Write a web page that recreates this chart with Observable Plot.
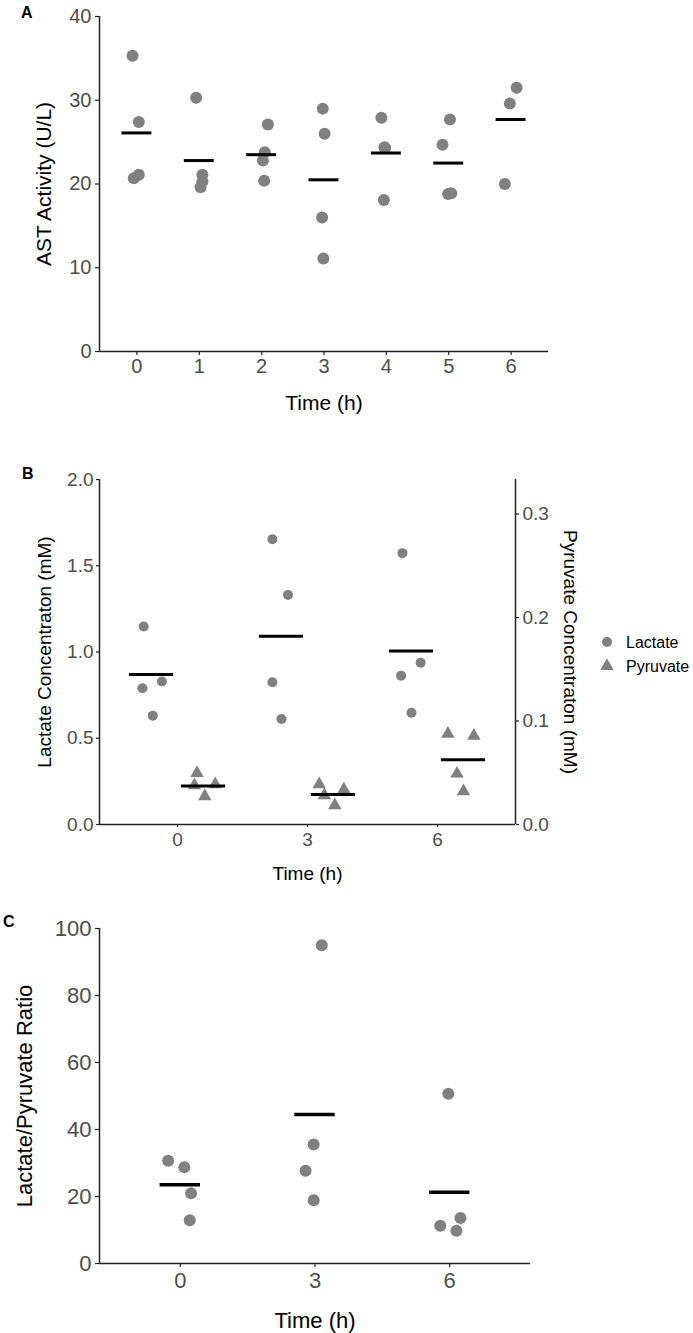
<!DOCTYPE html>
<html>
<head>
<meta charset="utf-8">
<script src="https://cdn.jsdelivr.net/npm/d3@7"></script>
<script src="https://cdn.jsdelivr.net/npm/@observablehq/plot@0.6"></script>
<style>
  body { margin: 0; background: #fff; }
  #wrap { position: relative; width: 693px; height: 1333px; overflow: hidden; background: #fff; }
  #wrap svg { position: absolute; left: 0; }
  .panel-letter { position: absolute; font-family: "Liberation Sans", Arial, Helvetica, sans-serif; font-weight: bold; font-size: 16px; line-height: 16px; color: #000; }
</style>
</head>
<body>
<div id="wrap"></div>
<script>
// ---------- Panel A data: AST activity ----------
const astTimes = [0, 1, 2, 3, 4, 5, 6];
const astTime = [0,0,0,0, 1,1,1,1, 2,2,2,2, 3,3,3,3, 4,4,4,4, 5,5,5,5, 6,6,6];
const astValue = [35.3,27.4,20.7,21.1, 30.3,21.1,20.3,19.6, 27.1,23.8,22.8,20.4, 29.0,26.0,16.0,11.1, 27.9,24.4,24.3,18.1, 27.7,24.7,18.8,18.9, 31.5,29.6,20.0];
const astJitter = [-0.07,0.03,-0.05,0.03, -0.05,0.05,0.05,0.02, 0.10,0.05,0.02,0.04, -0.02,0.01,-0.03,-0.01, -0.08,-0.03,-0.02,-0.04, 0.02,-0.10,-0.01,0.04, 0.09,-0.02,-0.10];
const astMean = [26.1, 22.8, 23.5, 20.5, 23.7, 22.5, 27.7];
const astTicks = [0, 10, 20, 30, 40];

// ---------- Panel B data: lactate / pyruvate ----------
const timeLabels = ["0", "3", "6"];
const lacTime = [0,0,0,0, 1,1,1,1, 2,2,2,2];
const lacValue = [1.148,0.790,0.829,0.631, 1.654,1.331,0.825,0.612, 1.573,0.938,0.863,0.648];
const lacJitter = [-0.26,-0.27,-0.12,-0.19, -0.27,-0.15,-0.27,-0.20, -0.27,-0.13,-0.28,-0.20];
const lacMean = [0.87, 1.092, 1.006];
const pyrTime = [0,0,0,0, 1,1,1,1, 2,2,2,2];
const pyrValue = [0.0497,0.0379,0.0388,0.0273, 0.0388,0.0282,0.0337,0.0186, 0.0876,0.0857,0.0491,0.0321];
const pyrJitter = [0.15,0.13,0.29,0.21, 0.09,0.13,0.28,0.21, 0.08,0.28,0.15,0.20];
const pyrMean = [0.0372, 0.0289, 0.0626];
const lacTicks = [0, 0.5, 1.0, 1.5, 2.0];
const pyrTicks = [0, 0.1, 0.2, 0.3];
const pyruvateScale = 6; // secondary axis: pyruvate = lactate axis / 6

// ---------- Panel C data: lactate/pyruvate ratio ----------
const ratioTime = [0,0,0,0, 1,1,1,1, 2,2,2,2];
const ratioValue = [30.7,28.7,21.0,12.9, 95.0,35.5,27.7,18.9, 50.7,13.6,11.3,9.8];
const ratioJitter = [-0.09,0.03,0.08,0.07, 0.05,-0.01,-0.07,-0.01, -0.01,0.08,-0.07,0.05];
const ratioMean = [23.5, 44.5, 21.3];
const ratioTicks = [0, 20, 40, 60, 80, 100];

// ---------- styles ----------
const FONT = '"Liberation Sans", Arial, Helvetica, sans-serif';
const GREY = "#808080";
const TICKTXT = "#4d4d4d";
const AXIS = "#222222";
const wrap = document.getElementById("wrap");

function place(svg, top) {
  svg.style.top = top + "px";
  wrap.appendChild(svg);
  return svg;
}
function letter(txt, left, top) {
  const d = document.createElement("div");
  d.className = "panel-letter";
  d.style.left = left + "px";
  d.style.top = top + "px";
  d.textContent = txt;
  wrap.appendChild(d);
}
const titleOpts = {textAnchor: "middle", lineAnchor: "middle", fill: "black"};

// ---------- Panel A ----------
const astData = astValue.map((v, i) => ({x: astTime[i] + astJitter[i], y: v}));
const astMeanData = astTimes.map((t, i) => ({t, m: astMean[i]}));
const plotA = Plot.plot({
  width: 693, height: 440,
  marginTop: 16, marginBottom: 89, marginLeft: 99, marginRight: 145,
  style: {fontFamily: FONT, background: "transparent", overflow: "visible"},
  x: {domain: [-0.6, 6.6]},
  y: {domain: [0, 40]},
  marks: [
    Plot.axisX({ticks: astTimes, tickFormat: d => String(d), tickSize: 4, tickPadding: 3, fontSize: 20, fill: TICKTXT, stroke: AXIS, strokeWidth: 1.2, label: null}),
    Plot.axisY({ticks: astTicks, tickFormat: d => String(d), tickSize: 4, tickPadding: 4, fontSize: 20, fill: TICKTXT, stroke: AXIS, strokeWidth: 1.2, label: null}),
    Plot.ruleX([-0.6], {stroke: AXIS, strokeWidth: 1.5}),
    Plot.ruleY([0], {stroke: AXIS, strokeWidth: 1.5}),
    Plot.dot(astData, {x: "x", y: "y", r: 6, fill: GREY}),
    Plot.ruleY(astMeanData, {x1: d => d.t - 0.24, x2: d => d.t + 0.24, y: "m", stroke: "black", strokeWidth: 3}),
    Plot.text(["Time (h)"], {...titleOpts, text: d => d, frameAnchor: "bottom", dy: 51.5, fontSize: 21}),
    Plot.text(["AST Activity (U/L)"], {...titleOpts, text: d => d, frameAnchor: "left", dx: -55, rotate: -90, fontSize: 21})
  ]
});
place(plotA, 0);

// ---------- Panel B ----------
const lacData = lacValue.map((v, i) => ({x: lacTime[i] + lacJitter[i], y: v}));
const pyrData = pyrValue.map((v, i) => ({x: pyrTime[i] + pyrJitter[i], y: v * pyruvateScale}));
const lacMeanData = lacMean.map((m, i) => ({t: i, m}));
const pyrMeanData = pyrMean.map((m, i) => ({t: i, m: m * pyruvateScale}));
const plotB = Plot.plot({
  width: 693, height: 455,
  marginTop: 39, marginBottom: 71, marginLeft: 99, marginRight: 178,
  style: {fontFamily: FONT, background: "transparent", overflow: "visible"},
  x: {domain: [-0.6, 2.6]},
  y: {domain: [0, 2]},
  marks: [
    Plot.axisX({ticks: [0, 1, 2], tickFormat: i => timeLabels[i], tickSize: 3, tickPadding: 5, fontSize: 19, fill: TICKTXT, stroke: AXIS, strokeWidth: 1.2, label: null}),
    Plot.axisY({ticks: lacTicks, tickFormat: d => d.toFixed(1), tickSize: 3, tickPadding: 3, fontSize: 19, fill: TICKTXT, stroke: AXIS, strokeWidth: 1.2, label: null}),
    Plot.axisY({anchor: "right", ticks: pyrTicks.map(p => p * pyruvateScale), tickFormat: d => (d / pyruvateScale).toFixed(1), tickSize: 3, tickPadding: 4, fontSize: 19, fill: TICKTXT, stroke: AXIS, strokeWidth: 1.2, label: null}),
    Plot.ruleX([-0.6], {stroke: AXIS, strokeWidth: 1.5}),
    Plot.ruleX([2.6], {stroke: AXIS, strokeWidth: 1.5}),
    Plot.ruleY([0], {stroke: AXIS, strokeWidth: 1.5}),
    Plot.dot(lacData, {x: "x", y: "y", r: 5, fill: GREY, symbol: "circle"}),
    Plot.dot(pyrData, {x: "x", y: "y", r: 5, fill: GREY, symbol: "triangle"}),
    Plot.ruleY(lacMeanData, {x1: d => d.t - 0.2 - 0.17, x2: d => d.t - 0.2 + 0.17, y: "m", stroke: "black", strokeWidth: 3}),
    Plot.ruleY(pyrMeanData, {x1: d => d.t + 0.2 - 0.17, x2: d => d.t + 0.2 + 0.17, y: "m", stroke: "black", strokeWidth: 3}),
    Plot.text(["Time (h)"], {...titleOpts, text: d => d, frameAnchor: "bottom", dy: 49, fontSize: 19}),
    Plot.text(["Lactate Concentraton (mM)"], {...titleOpts, text: d => d, frameAnchor: "left", dx: -55, rotate: -90, fontSize: 19}),
    Plot.text(["Pyruvate Concentraton (mM)"], {...titleOpts, text: d => d, frameAnchor: "right", dx: 55, rotate: 90, fontSize: 19})
  ]
});
place(plotB, 440);

// legend for panel B
{
  const g = d3.select(plotB).append("g");
  const items = [{label: "Lactate", sym: d3.symbolCircle}, {label: "Pyruvate", sym: d3.symbolTriangle}];
  const r = 5;
  items.forEach((it, i) => {
    const cy = 202 + i * 24;
    g.append("path")
      .attr("d", d3.symbol(it.sym, Math.PI * r * r)())
      .attr("transform", `translate(607,${cy})`)
      .attr("fill", GREY);
    g.append("text").attr("x", 626).attr("y", cy).attr("dy", "0.35em")
      .style("font-family", FONT).style("font-size", "16px").style("text-anchor", "start")
      .attr("fill", "black").text(it.label);
  });
}

// ---------- Panel C ----------
const ratioData = ratioValue.map((v, i) => ({x: ratioTime[i] + ratioJitter[i], y: v}));
const ratioMeanData = ratioMean.map((m, i) => ({t: i, m}));
const plotC = Plot.plot({
  width: 693, height: 438,
  marginTop: 33, marginBottom: 70, marginLeft: 99, marginRight: 163,
  style: {fontFamily: FONT, background: "transparent", overflow: "visible"},
  x: {domain: [-0.6, 2.6]},
  y: {domain: [0, 100]},
  marks: [
    Plot.axisX({ticks: [0, 1, 2], tickFormat: i => timeLabels[i], tickSize: 4, tickPadding: 5, fontSize: 22, fill: TICKTXT, stroke: AXIS, strokeWidth: 1.2, label: null}),
    Plot.axisY({ticks: ratioTicks, tickFormat: d => String(d), tickSize: 4, tickPadding: 4, fontSize: 22, fill: TICKTXT, stroke: AXIS, strokeWidth: 1.2, label: null}),
    Plot.ruleX([-0.6], {stroke: AXIS, strokeWidth: 1.5}),
    Plot.ruleY([0], {stroke: AXIS, strokeWidth: 1.5}),
    Plot.dot(ratioData, {x: "x", y: "y", r: 6, fill: GREY}),
    Plot.ruleY(ratioMeanData, {x1: d => d.t - 0.15, x2: d => d.t + 0.15, y: "m", stroke: "black", strokeWidth: 3.5}),
    Plot.text(["Time (h)"], {...titleOpts, text: d => d, frameAnchor: "bottom", dy: 57, fontSize: 22}),
    Plot.text(["Lactate/Pyruvate Ratio"], {...titleOpts, text: d => d, frameAnchor: "left", dx: -75, rotate: -90, fontSize: 22})
  ]
});
place(plotC, 895);

// panel letters
letter("A", 21, 5);
letter("B", 22, 466);
letter("C", 3, 914);
</script>
</body>
</html>
